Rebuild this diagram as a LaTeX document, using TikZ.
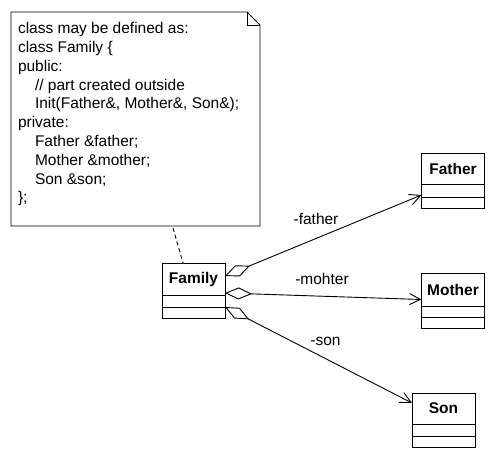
\documentclass[tikz,border=0pt]{standalone}
\usepackage{fontspec}
\setmainfont{Liberation Sans}
\usetikzlibrary{arrows.meta,calc}
\begin{document}
\begin{tikzpicture}[x=1pt,y=-1pt,
  line width=0.9pt,
  every node/.style={font=\fontsize{15.5}{18}\selectfont, outer sep=0pt},
  clsname/.style={draw, minimum width=63pt, minimum height=32pt, inner sep=0pt, font=\fontsize{15.5}{18}\selectfont\bfseries},
  clspart/.style={draw, minimum width=63pt, minimum height=12pt, inner sep=0pt, anchor=north},
  notetxt/.style={anchor=base west, inner sep=0pt},
  assoc/.style={{Diamond[open,length=27pt,width=12pt]}-{Straight Barb[length=11pt,width=11pt]}},
  lbl/.style={inner sep=0pt},
]
\useasboundingbox (0,0) rectangle (493,460);

% note
\node (note) [minimum width=249pt, minimum height=214pt, inner sep=0pt] at (135.5,119) {};
\draw (note.north west) -- ($(note.north east)+(-13,0)$) -- ($(note.north east)+(0,13)$)
      -- (note.south east) -- (note.south west) -- cycle;
\draw ($(note.north east)+(-13,0)$) -- ($(note.north east)+(-13,13)$) -- ($(note.north east)+(0,13)$);

\node[notetxt] (l1)  at (18,34)     {class may be defined as:};
\node[notetxt] (l2)  at (18,52.75)  {class Family \{};
\node[notetxt] (l3)  at (18,71.5)   {public:};
\node[notetxt] (l4)  at (35,90.25)  {// part created outside};
\node[notetxt] (l5)  at (35,109)    {Init(Father\&, Mother\&, Son\&);};
\node[notetxt] (l6)  at (18,127.75) {private:};
\node[notetxt] (l7)  at (35,146.5)  {Father \&father;};
\node[notetxt] (l8)  at (35,165.25) {Mother \&mother;};
\node[notetxt] (l9)  at (35,184)    {Son \&son;};
\node[notetxt] (l10) at (18,202.75) {\};};

% classes
\node[clsname] (fam) at (193.5,279) {Family};
\node[clspart] (fam1) at (fam.south) {};
\node[clspart, minimum height=11pt] (fam2) at (fam1.south) {};

\node[clsname, minimum height=31pt] (fat) at (453,168.5) {Father};
\node[clspart, minimum height=13pt] (fat1) at (fat.south) {};
\node[clspart, minimum height=11pt] (fat2) at (fat1.south) {};

\node[clsname, minimum height=33pt] (mot) at (453,290) {Mother};
\node[clspart, minimum height=11pt] (mot1) at (mot.south) {};
\node[clspart, minimum height=11pt] (mot2) at (mot1.south) {};

\node[clsname, minimum height=31pt] (son) at (443.5,408.5) {Son};
\node[clspart, minimum height=12pt] (son1) at (son.south) {};
\node[clspart, minimum height=11pt] (son2) at (son1.south) {};

% note anchor
\draw[dash pattern=on 4pt off 3pt] ($(note.south west)+(162,2)$) -- ($(fam.north)+(-10.5,0)$);

% associations
\draw[assoc] ($(fam.east)+(0,-3)$) -- ($(fat1.south west)+(0,-2)$);
\draw[assoc] ($(fam.south east)+(0,-2)$) -- ($(mot.south west)+(0,-7)$);
\draw[assoc] (fam1.south east) -- ($(son.north west)+(0,10)$);

% labels
\node[lbl] (lf) at (316,219) {-father};
\node[lbl] (lm) at (322,279) {-mohter};
\node[lbl] (ls) at (325.5,341) {-son};
\end{tikzpicture}
\end{document}
